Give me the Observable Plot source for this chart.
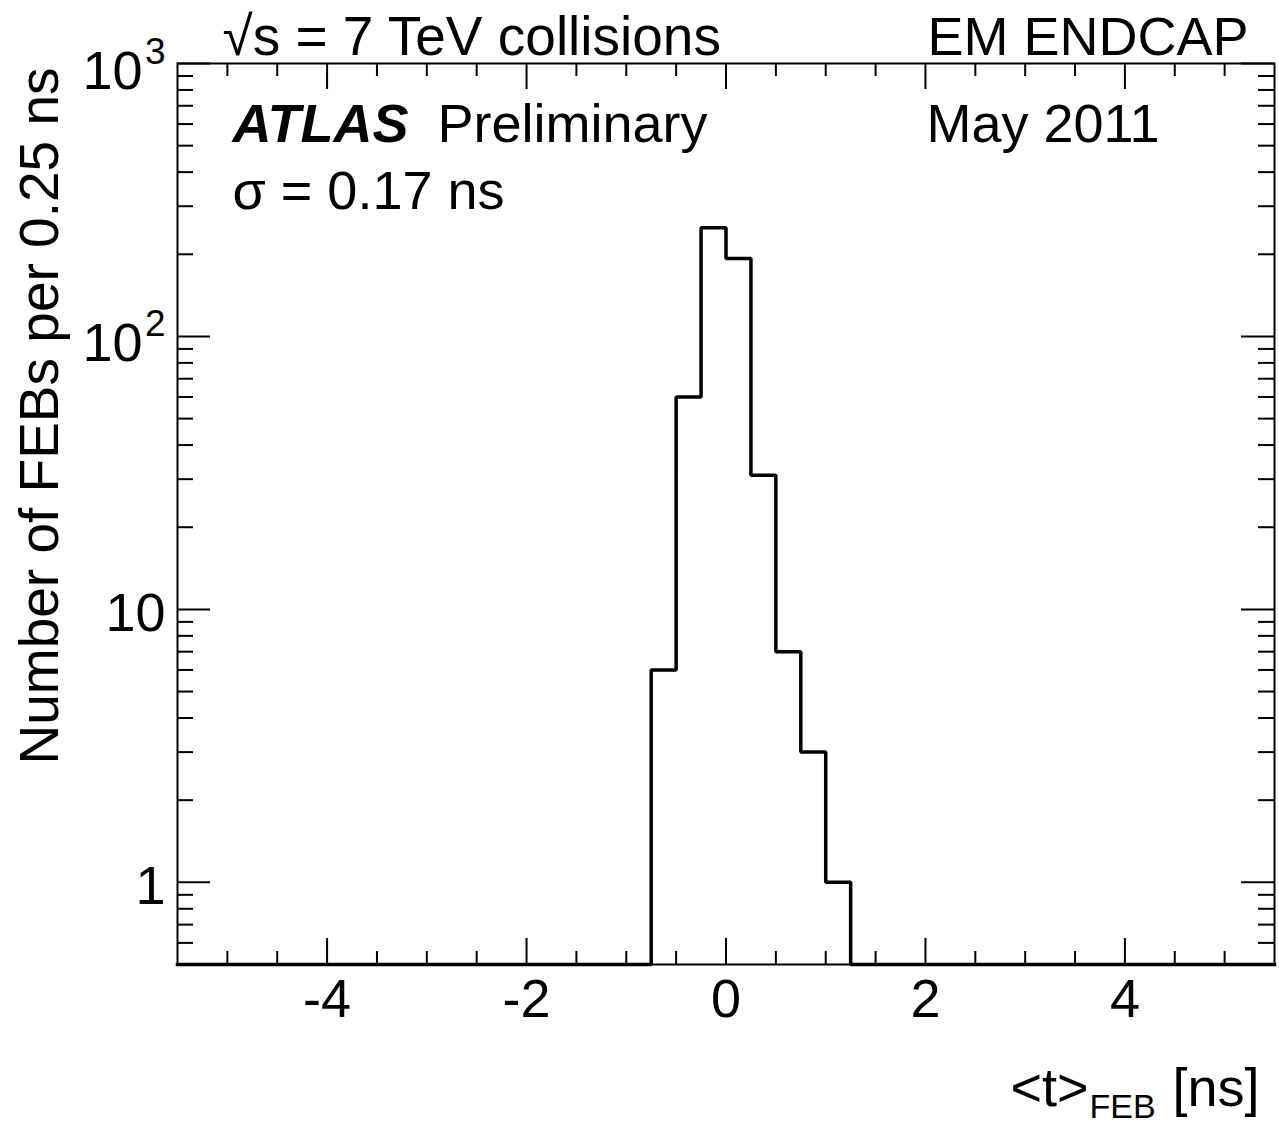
<!DOCTYPE html>
<html><head><meta charset="utf-8">
<script src="https://cdn.jsdelivr.net/npm/d3@7"></script>
<script src="https://cdn.jsdelivr.net/npm/@observablehq/plot@0.6"></script>
<style>body{margin:0;background:#fff}</style>
</head><body><div id="chart"></div>
<script>
// Histogram: bin edges (merged empty bins at both ends) and counts per 0.25 ns bin
const binEdges  = [-5.5, -0.75, -0.5, -0.25, 0, 0.25, 0.5, 0.75, 1.0, 1.25, 5.5];
const binCounts = [0, 6, 60, 250, 193, 31, 7, 3, 1, 0];

const xDomain = [-5.5, 5.5];
const yDomain = [0.5, 1000];

const xMajorTicks = [-4, -2, 0, 2, 4];
const xTickLabels = ["-4", "-2", "0", "2", "4"];
const xMinorTicks = [-5, -4.5, -3.5, -3, -2.5, -1.5, -1, -0.5, 0.5, 1, 1.5, 2.5, 3, 3.5, 4.5, 5];

const yMajorTicks = [1, 10, 100, 1000];
const yMinorTicks = [0.6, 0.7, 0.8, 0.9, 2, 3, 4, 5, 6, 7, 8, 9, 20, 30, 40, 50, 60, 70, 80, 90, 200, 300, 400, 500, 600, 700, 800, 900];
const yPlainTicks = [1, 10];
const yPlainLabels = ["1", "10"];
const yPowTicks = [100, 1000];
const yPowBase = ["10", "10"];
const yPowExp = ["2", "3"];

const W = 1279, H = 1125;
const mL = 177, mR = 5, mT = 63, mB = 161;
const pw = W - mL - mR, ph = H - mT - mB;
const font = "Liberation Sans, Arial, Helvetica, sans-serif";
const fs = 54;

const rows = binEdges.map((e, i) => ({
  x: e,
  y: Math.max(binCounts[Math.min(i, binCounts.length - 1)], yDomain[0])
}));

const txt = (s, o) => Plot.text([s], {text: d => d, fontSize: fs, fontFamily: font, fill: "black", lineAnchor: "bottom", ...o});

const chart = Plot.plot({
  width: W, height: H,
  marginLeft: mL, marginRight: mR, marginTop: mT, marginBottom: mB,
  style: {fontFamily: font, background: "white", color: "black"},
  x: {domain: xDomain, axis: null},
  y: {type: "log", domain: yDomain, axis: null, clamp: true},
  marks: [
    // ticks (inward, ROOT style) on all four sides
    Plot.tickX(xMajorTicks, {x: d => d, insetTop: ph - 26, stroke: "black", strokeWidth: 2}),
    Plot.tickX(xMinorTicks, {x: d => d, insetTop: ph - 13, stroke: "black", strokeWidth: 2}),
    Plot.tickX(xMajorTicks, {x: d => d, insetBottom: ph - 26, stroke: "black", strokeWidth: 2}),
    Plot.tickX(xMinorTicks, {x: d => d, insetBottom: ph - 13, stroke: "black", strokeWidth: 2}),
    Plot.tickY(yMajorTicks, {y: d => d, insetRight: pw - 33, stroke: "black", strokeWidth: 2}),
    Plot.tickY(yMinorTicks, {y: d => d, insetRight: pw - 16, stroke: "black", strokeWidth: 2}),
    Plot.tickY(yMajorTicks, {y: d => d, insetLeft: pw - 33, stroke: "black", strokeWidth: 2}),
    Plot.tickY(yMinorTicks, {y: d => d, insetLeft: pw - 16, stroke: "black", strokeWidth: 2}),
    Plot.frame({stroke: "black", strokeWidth: 2}),
    // histogram outline
    Plot.line(rows, {x: "x", y: "y", curve: "step-after", stroke: "black", strokeWidth: 3.5, strokeLinejoin: "miter", strokeLinecap: "square"}),
    // x tick labels
    Plot.text(xMajorTicks, {x: d => d, text: (d, i) => xTickLabels[i], frameAnchor: "bottom", dy: 52, lineAnchor: "bottom", fontSize: fs, fontFamily: font, fill: "black"}),
    // y tick labels
    Plot.text(yPlainTicks, {y: d => d, text: (d, i) => yPlainLabels[i], frameAnchor: "left", dx: -12, textAnchor: "end", dy: 22, lineAnchor: "bottom", fontSize: fs, fontFamily: font, fill: "black"}),
    Plot.text(yPowTicks, {y: d => d, text: (d, i) => yPowBase[i], frameAnchor: "left", dx: -35, textAnchor: "end", dy: 25, lineAnchor: "bottom", fontSize: fs, fontFamily: font, fill: "black"}),
    Plot.text(yPowTicks, {y: d => d, text: (d, i) => yPowExp[i], frameAnchor: "left", dx: -12, textAnchor: "end", dy: 0, lineAnchor: "bottom", fontSize: 37, fontFamily: font, fill: "black"}),
    // axis titles
    txt("Number of FEBs per 0.25 ns", {frameAnchor: "top-left", rotate: -90, textAnchor: "end", dx: -120, dy: 4, fontSize: 55}),
    txt("<t>", {frameAnchor: "bottom-right", textAnchor: "end", dx: 1088 - 1274, dy: 141}),
    txt("FEB", {frameAnchor: "bottom-right", textAnchor: "start", dx: 1089 - 1274, dy: 153, fontSize: 34}),
    txt("[ns]", {frameAnchor: "bottom-right", textAnchor: "end", dx: -15, dy: 141}),
    // annotations
    txt("\u221As = 7 TeV collisions", {frameAnchor: "top-left", textAnchor: "start", dx: 45, dy: -9, fontSize: 55}),
    txt("EM ENDCAP", {frameAnchor: "top-right", textAnchor: "end", dx: -26, dy: -9}),
    txt("ATLAS", {frameAnchor: "top-left", textAnchor: "start", dx: 55, dy: 78, fontWeight: "bold", fontStyle: "italic"}),
    txt("Preliminary", {frameAnchor: "top-left", textAnchor: "start", dx: 260, dy: 78}),
    txt("May 2011", {frameAnchor: "top-left", textAnchor: "start", dx: 749, dy: 78}),
    txt("\u03C3 = 0.17 ns", {frameAnchor: "top-left", textAnchor: "start", dx: 55, dy: 145})
  ]
});
document.getElementById("chart").appendChild(chart);
</script>
</body></html>
